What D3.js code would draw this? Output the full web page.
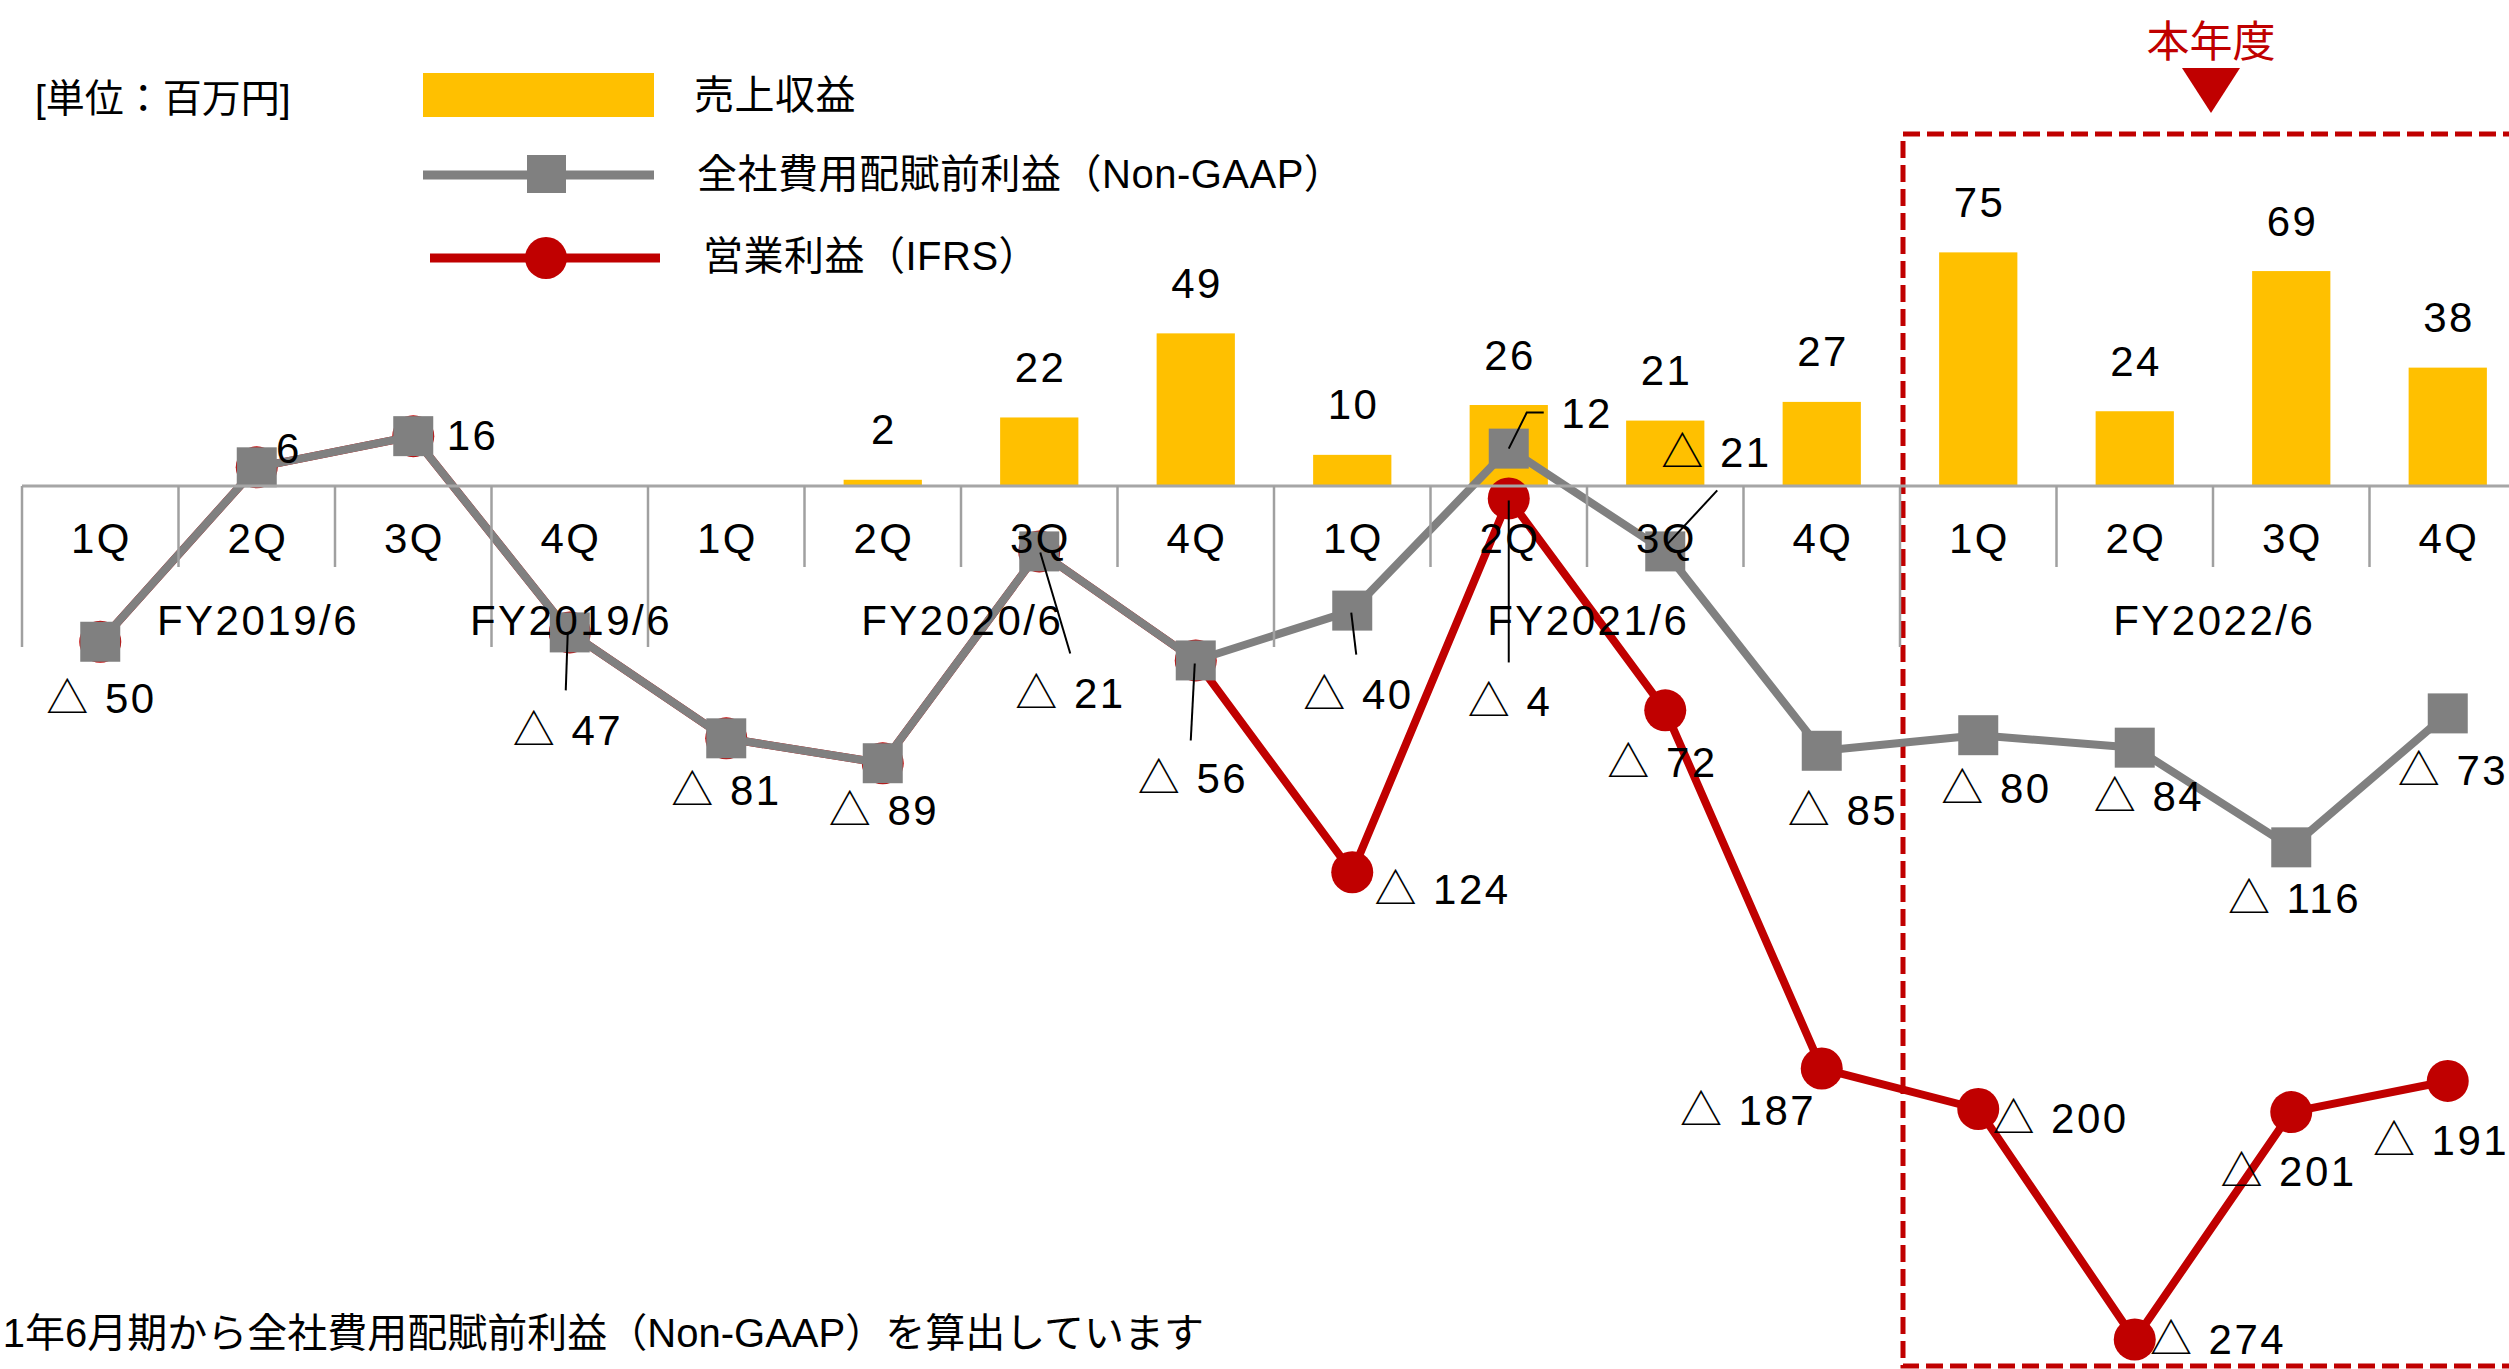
<!DOCTYPE html>
<html><head><meta charset="utf-8">
<script src="https://cdn.jsdelivr.net/npm/d3@7"></script>
<style>body{margin:0;background:#fff;overflow:hidden}svg{display:block}</style>
</head><body>
<script>
// ---------- DATA ----------
const quarters = ["1Q","2Q","3Q","4Q","1Q","2Q","3Q","4Q","1Q","2Q","3Q","4Q","1Q","2Q","3Q","4Q"];
const fyLabels = ["FY2019/6","FY2019/6","FY2020/6","FY2021/6","FY2022/6"];
const fyStart  = [0,3,4,8,12];
const fyEnd    = [3,4,8,12,16];
const revenue   = [null,null,null,null,null,2,22,49,10,26,21,27,75,24,69,38];
const nonGaap   = [-50,6,16,-47,-81,-89,-21,-56,-40,12,-21,-85,-80,-84,-116,-73];
const operating = [-50,6,16,-47,-81,-89,-21,-56,-124,-4,-72,-187,-200,-274,-201,-191];
const seriesNames = ["売上収益","全社費用配賦前利益（Non-GAAP）","営業利益（IFRS）"];
const unitLabel = "[単位：百万円]";
const currentYearLabel = "本年度";
const footnote = "1年6月期から全社費用配賦前利益（Non-GAAP）を算出しています";

// ---------- LAYOUT (label placement offsets, relative to marker) ----------
const grayLabelOff = [[0,57],[31,-19],[58,-1],[-3,98],[-1,52],[0,47],[30,142],[-4,118],
                      [5,84],[77,-35],[50,-99],[20,60],[17,53],[13,49],[2,51],[4,57]];
const grayLeaders = {3:[[-2,0],[-4,58]],6:[[1,1],[31,102]],7:[[-1,3],[-5,80]],8:[[-1,2],[4,44]],
                     9:[[0,0],[18,-36],[35,-36]],10:[[1,-6],[52,-61]]};
const redLabelOff = {8:[89,17],9:[0,203],10:[-4,52],11:[-75,42],12:[81,9],13:[82,0],14:[-4,59],15:[-8,60]};
const redLeaders = {9:[[0,2],[0,164]]};

const W = 2509, H = 1369;
const GOLD = "#FFC000", GRAY = "#808080", RED = "#C00000";
const FONT = "'Liberation Sans','Noto Sans CJK JP',sans-serif";
const NUM_SIZE = 42, NUM_LS = 2.5;

const svg = d3.select("body").append("svg").attr("width", W).attr("height", H)
  .style("font-family", FONT);

const idx = d3.range(quarters.length);
const x = d3.scaleBand().domain(idx).range([22, 22 + 156.5*16]).padding(0);
const bw = x.bandwidth();
const cx = i => x(i) + bw/2;
const y = d3.scaleLinear().domain([-300, 100]).range([486 + 300*3.115, 486 - 100*3.115]);
const fmt = v => v < 0 ? "△ " + (-v) : String(v);
const numText = sel => sel.attr("text-anchor", "middle").attr("dominant-baseline", "central")
  .attr("font-size", NUM_SIZE).attr("letter-spacing", NUM_LS).attr("dx", NUM_LS/2);

// ---------- current-year box ----------
svg.append("rect").attr("x", 1903).attr("y", 134).attr("width", 700).attr("height", 1232)
  .attr("fill", "none").attr("stroke", RED).attr("stroke-width", 5).attr("stroke-dasharray", "17,7");
svg.append("text").attr("x", 2211).attr("y", 42).attr("text-anchor", "middle")
  .attr("dominant-baseline", "central").attr("font-size", 43).attr("fill", RED)
  .text(currentYearLabel);
svg.append("path").attr("d", d3.line()([[2182,68],[2240,68],[2211,113]]) + "Z").attr("fill", RED);

// ---------- bars ----------
svg.append("g").selectAll("rect").data(idx.filter(i => revenue[i] != null)).join("rect")
  .attr("x", i => x(i) + bw*0.25).attr("width", bw*0.5)
  .attr("y", i => y(revenue[i])).attr("height", i => y(0) - y(revenue[i]))
  .attr("fill", GOLD);
svg.append("g").selectAll("text").data(idx.filter(i => revenue[i] != null)).join("text")
  .attr("x", i => cx(i)).attr("y", i => y(revenue[i]) - 50)
  .call(numText).text(i => fmt(revenue[i]));

// ---------- category axis ----------
const ax = svg.append("g");
ax.append("line").attr("x1", x(0)).attr("x2", W + 20).attr("y1", y(0)).attr("y2", y(0))
  .attr("stroke", "#a6a6a6").attr("stroke-width", 3);
const bounds = d3.range(17);
ax.selectAll("line.tick").data(bounds).join("line").attr("class", "tick")
  .attr("x1", b => 22 + b*bw).attr("x2", b => 22 + b*bw)
  .attr("y1", y(0)).attr("y2", b => fyStart.includes(b) || b === 16 ? 647 : 567)
  .attr("stroke", "#a0a0a0").attr("stroke-width", 2.5);

// ---------- lines ----------
svg.append("path").datum(idx).attr("d", d3.line().x(i => cx(i)).y(i => y(operating[i])))
  .attr("fill", "none").attr("stroke", RED).attr("stroke-width", 8).attr("stroke-linejoin", "round");
svg.append("g").selectAll("circle").data(idx).join("circle")
  .attr("cx", i => cx(i)).attr("cy", i => y(operating[i])).attr("r", 21).attr("fill", RED);
svg.append("path").datum(idx).attr("d", d3.line().x(i => cx(i)).y(i => y(nonGaap[i])))
  .attr("fill", "none").attr("stroke", GRAY).attr("stroke-width", 8).attr("stroke-linejoin", "round");
svg.append("g").selectAll("rect").data(idx).join("rect")
  .attr("x", i => cx(i) - 20).attr("y", i => y(nonGaap[i]) - 20)
  .attr("width", 40).attr("height", 40).attr("fill", GRAY);

// ---------- axis labels (drawn over series) ----------
ax.raise();
ax.selectAll("text.q").data(idx).join("text").attr("class", "q")
  .attr("x", i => cx(i)).attr("y", 538).call(numText).text(i => quarters[i]);
ax.selectAll("text.fy").data(d3.range(fyLabels.length)).join("text").attr("class", "fy")
  .attr("x", k => 22 + (fyStart[k] + fyEnd[k]) / 2 * bw).attr("y", 620)
  .call(numText).text(k => fyLabels[k]);

// ---------- data labels + leaders ----------
const lbl = svg.append("g");
const drawLeader = (pts, i, arr) => {
  lbl.append("path").attr("d", d3.line()(pts.map(p => [cx(i) + p[0], y(arr[i]) + p[1]])))
    .attr("fill", "none").attr("stroke", "#000").attr("stroke-width", 2);
};
Object.keys(grayLeaders).forEach(k => drawLeader(grayLeaders[k], +k, nonGaap));
Object.keys(redLeaders).forEach(k => drawLeader(redLeaders[k], +k, operating));
lbl.selectAll("text.g").data(idx).join("text").attr("class", "g")
  .attr("x", i => cx(i) + grayLabelOff[i][0]).attr("y", i => y(nonGaap[i]) + grayLabelOff[i][1])
  .call(numText).text(i => fmt(nonGaap[i]));
const redIdx = Object.keys(redLabelOff).map(Number);
lbl.selectAll("text.r").data(redIdx).join("text").attr("class", "r")
  .attr("x", i => cx(i) + redLabelOff[i][0]).attr("y", i => y(operating[i]) + redLabelOff[i][1])
  .call(numText).text(i => fmt(operating[i]));

// ---------- legend ----------
const lg = svg.append("g");
lg.append("text").attr("x", 35).attr("y", 98).attr("dominant-baseline", "central")
  .attr("font-size", 39).text(unitLabel);
lg.append("rect").attr("x", 423).attr("y", 73).attr("width", 231).attr("height", 44).attr("fill", GOLD);
lg.append("line").attr("x1", 423).attr("x2", 654).attr("y1", 175).attr("y2", 175)
  .attr("stroke", GRAY).attr("stroke-width", 9);
lg.append("rect").attr("x", 527).attr("y", 155).attr("width", 39).attr("height", 38).attr("fill", GRAY);
lg.append("line").attr("x1", 430).attr("x2", 660).attr("y1", 258).attr("y2", 258)
  .attr("stroke", RED).attr("stroke-width", 9);
lg.append("circle").attr("cx", 546).attr("cy", 258).attr("r", 21).attr("fill", RED);
const legY = [95, 174, 256], legX = [694, 697, 703];
lg.selectAll("text.s").data(seriesNames).join("text").attr("class", "s")
  .attr("x", (d, k) => legX[k]).attr("y", (d, k) => legY[k]).attr("dominant-baseline", "central")
  .attr("font-size", 40).attr("letter-spacing", 0.5).text(d => d);

// ---------- footnote ----------
svg.append("text").attr("x", 1204).attr("y", 1333).attr("text-anchor", "end")
  .attr("dominant-baseline", "central").attr("font-size", 40).text(footnote);
</script>
</body></html>
